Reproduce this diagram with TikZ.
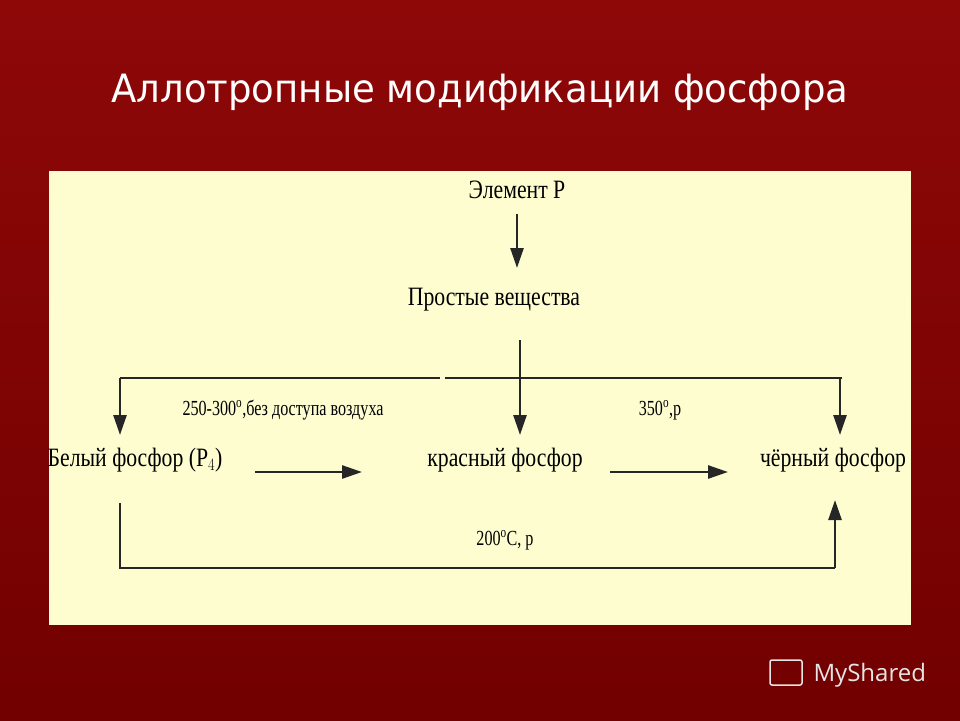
\documentclass[tikz,border=0pt]{standalone}
\usepackage{fontspec}
\setmainfont{Liberation Serif}
\newfontfamily\titlefont{DejaVu Sans}
\newfontfamily\wmfont{Open Sans}
\usetikzlibrary{arrows.meta}
\definecolor{bgred}{HTML}{720000}
\definecolor{bgred2}{HTML}{8E0808}
\definecolor{panel}{HTML}{FDFDD0}
\tikzset{
  lbl/.style={font=\fontsize{26.5}{28}\selectfont, inner sep=0pt, xscale=0.82},
  small/.style={font=\fontsize{21.5}{23}\selectfont, inner sep=0pt, xscale=0.75},
  ln/.style={line width=2.6pt, black!85},
  arr/.style={ln, -{Triangle[length=20pt,width=13pt]}},
}
\begin{document}
\begin{tikzpicture}[x=1pt,y=-1pt]
\useasboundingbox (0,0) rectangle (960,720);
\shade[top color=bgred2, bottom color=bgred] (0,0) rectangle (960,720);
\fill[panel] (49,171) rectangle (911,625);
\node[text=white, font=\titlefont\fontsize{39}{42}\selectfont, xscale=0.95] (title) at (480,92) {Аллотропные модификации фосфора};
\node[lbl] (el) at (517,190) {Элемент Р};
\node[lbl] (pr) at (494,300) {Простые вещества};
\node[lbl] (wh) at (135,460) {Белый фосфор (Р$_4$)};
\node[lbl] (rd) at (505,460) {красный фосфор};
\node[lbl] (bk) at (833,460) {чёрный фосфор};
\node[small] (l1) at (283,410) {250-300$^{\mathrm{o}}$,без доступа воздуха};
\node[small] (l2) at (660,410) {350$^{\mathrm{o}}$,р};
\node[small] (l3) at (505,540) {200$^{\mathrm{o}}$С, р};
\coordinate (tl) at (120,378); \coordinate (tr) at (842,378);
\coordinate (bl) at (120,568); \coordinate (br) at (835,568);
\draw[arr] (517,214) -- (517,268);
\draw[arr] (520,340) -- (520,435);
\draw[ln] (tl) -- (440,378); \draw[ln] (445,378) -- (tr);
\draw[arr] (tl) -- (120,435);
\draw[arr] (840,378) -- (840,435);
\draw[arr] (255,472) -- (362,472);
\draw[arr] (610,472) -- (728,472);
\draw[ln] (120,503) -- (bl) -- (br);
\draw[arr] (br) -- (835,500);
\node[text=white!80!gray, font=\wmfont\fontsize{24}{26}\selectfont, anchor=west] (wm) at (810,675) {MyShared};
\draw[white!80!gray, line width=1.5pt, rounded corners=2pt] (770,660) rectangle (802,685);
\end{tikzpicture}
\end{document}
